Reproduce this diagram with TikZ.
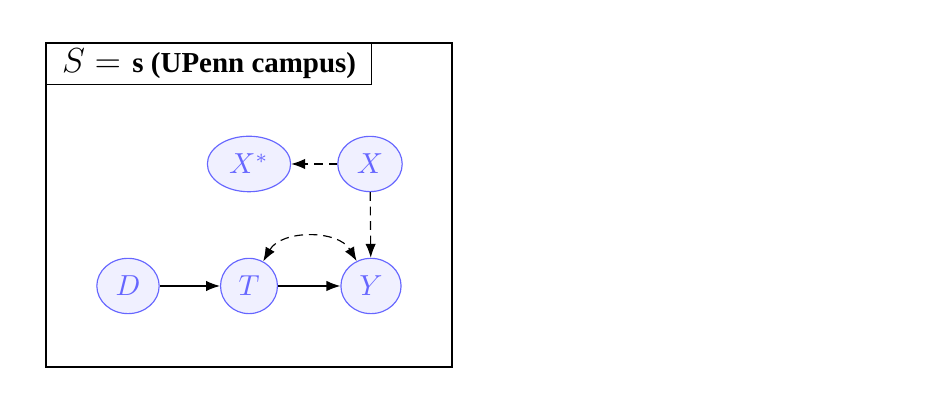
\documentclass[tikz,border=0pt]{standalone}
\usepackage{fontspec}
\newfontfamily\titlefont{Liberation Serif}
\usetikzlibrary{shapes.geometric,arrows.meta}
\begin{document}
\begin{tikzpicture}[x=0.3453pt,y=-0.3453pt,
  tip/.tip={Latex[length=4.8pt,width=3.6pt]},
  var/.style={ellipse,draw=blue!60,fill=blue!6,text=blue!60,line width=0.4pt},
  arr/.style={-tip,line width=0.4pt},
  darr/.style={-tip,dash pattern=on 3pt off 2pt,line width=0.4pt}]
\useasboundingbox (0,0) rectangle (950,412);
\draw[line width=0.4pt] (46,43) rectangle (452,367);
\node[draw,line width=0.4pt,anchor=north west,minimum width=325*0.3453pt,minimum height=41*0.3453pt,inner sep=0pt] (title) at (46,43) {\fontsize{12}{14}\selectfont$S=$ {\titlefont\bfseries\fontsize{10}{12}\selectfont s (UPenn campus)}};
\node[var] (Xs) at (249,164) {$X^*$};
\node[var] (X) at (370,164) {$X$};
\node[var] (D) at (128,286) {$D$};
\node[var] (T) at (249,286) {$T$};
\node[var] (Y) at (371,286) {$Y$};
\draw[arr] (D) -- (T);
\draw[arr] (T) -- (Y);
\draw[darr] (X) -- (Xs);
\draw[darr] (X) -- (Y);
\draw[tip-tip,dash pattern=on 3pt off 2pt,line width=0.4pt] (T) to[bend left=60] (Y);
\end{tikzpicture}
\end{document}
